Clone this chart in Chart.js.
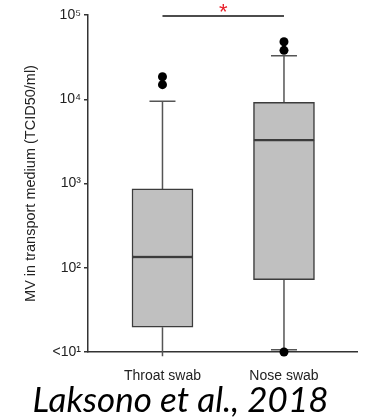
<!DOCTYPE html>
<html><head><meta charset="utf-8">
<script src="https://cdn.jsdelivr.net/npm/chart.js@4"></script>
<style>
html,body{margin:0;padding:0;background:#fff;}
#wrap{position:relative;width:365px;height:418px;overflow:hidden;}
#cap{position:absolute;left:0;width:361px;text-align:center;top:378px;font:italic 35px Lato, "Open Sans", sans-serif;color:#000;white-space:nowrap;line-height:40px;}
</style>
</head><body>
<div id="wrap"><canvas id="c" width="365" height="418"></canvas><div id="cap">Laksono et al., 2018</div></div>
<script>
const categories = ['Throat swab', 'Nose swab'];
const whiskerLow = [8.9, 10.6];
const q1 = [19.7, 72];
const median = [134, 3270];
const q3 = [863, 9200];
const whiskerHigh = [9460, 32900];
const outliersThroat = [14900, 18500];
const outliersNose = [10, 38100, 48200];
const yTicks = [10, 100, 1000, 10000, 100000];
const yTickLabels = ['<10¹', '10²', '10³', '10⁴', '10⁵'];
const sigValue = 97000;
const sigFrom = 0, sigTo = 1, sigLabel = '*';

const outlierPoints = [];
outliersThroat.forEach(v => outlierPoints.push({x: 0, y: v}));
outliersNose.forEach(v => outlierPoints.push({x: 1, y: v}));

const whiskerPlugin = {
  id: 'whiskers',
  beforeDatasetsDraw(chart) {
    const ctx = chart.ctx, xs = chart.scales.x, ys = chart.scales.y, a = chart.chartArea;
    ctx.save();
    ctx.strokeStyle = '#555';
    ctx.lineWidth = 1.5;
    categories.forEach((c, i) => {
      const x = xs.getPixelForValue(i);
      ctx.beginPath();
      ctx.moveTo(x, ys.getPixelForValue(whiskerLow[i]));
      ctx.lineTo(x, ys.getPixelForValue(q1[i]));
      ctx.moveTo(x, ys.getPixelForValue(q3[i]));
      ctx.lineTo(x, ys.getPixelForValue(whiskerHigh[i]));
      ctx.stroke();
    });
    ctx.beginPath();
    ctx.rect(a.left, a.top - 30, a.right - a.left, a.bottom - a.top + 30);
    ctx.clip();
    ctx.beginPath();
    categories.forEach((c, i) => {
      const x = xs.getPixelForValue(i);
      [whiskerLow[i], whiskerHigh[i]].forEach(v => {
        const y = ys.getPixelForValue(v);
        ctx.moveTo(x - 13, y);
        ctx.lineTo(x + 13, y);
      });
    });
    ctx.stroke();
    ctx.restore();
  },
  afterDatasetsDraw(chart) {
    const ctx = chart.ctx, xs = chart.scales.x, ys = chart.scales.y;
    const y = ys.getPixelForValue(sigValue);
    const x1 = xs.getPixelForValue(sigFrom), x2 = xs.getPixelForValue(sigTo);
    ctx.save();
    ctx.strokeStyle = '#111';
    ctx.lineWidth = 1.5;
    ctx.beginPath();
    ctx.moveTo(x1, y); ctx.lineTo(x2, y);
    ctx.stroke();
    ctx.fillStyle = '#e8202a';
    ctx.font = '22px "Liberation Sans", Arial, sans-serif';
    ctx.textAlign = 'center';
    ctx.textBaseline = 'alphabetic';
    ctx.fillText(sigLabel, (x1 + x2) / 2, y + 3);
    ctx.restore();
  }
};

const boxStyle = {
  backgroundColor: '#c0c0c0', borderColor: '#3c3c3c', borderWidth: 1.5,
  borderSkipped: false, barThickness: 61, grouped: false
};

new Chart(document.getElementById('c'), {
  type: 'bar',
  data: {
    datasets: [
      Object.assign({ label: 'lower', data: categories.map((c, i) => ({x: i, y: [q1[i], median[i]]})) }, boxStyle),
      Object.assign({ label: 'upper', data: categories.map((c, i) => ({x: i, y: [median[i], q3[i]]})) }, boxStyle),
      { type: 'scatter', label: 'outliers', data: outlierPoints, pointRadius: 4.5, pointBackgroundColor: '#000', pointBorderColor: '#000', pointBorderWidth: 0, clip: false }
    ]
  },
  options: {
    responsive: false,
    animation: false,
    layout: { padding: { top: 15, right: 8, bottom: 0, left: 0 } },
    plugins: { legend: { display: false }, tooltip: { enabled: false } },
    scales: {
      x: {
        type: 'linear', min: -0.613, max: 1.601, offset: false,
        afterBuildTicks: axis => { axis.ticks = categories.map((c, i) => ({value: i})); },
        afterFit: axis => { axis.height = 66; },
        ticks: { callback: v => categories[v], font: { size: 14, family: '"Liberation Sans", Arial, sans-serif' }, color: '#222', padding: 8, maxRotation: 0 },
        grid: { display: false },
        border: { color: '#333', width: 1.5 }
      },
      y: {
        type: 'logarithmic', min: 10, max: 100000,
        afterBuildTicks: axis => { axis.ticks = yTicks.map(v => ({value: v})); },
        afterFit: axis => { axis.width = 88; },
        ticks: { callback: (v, i) => yTickLabels[i], font: { size: 14, family: '"Liberation Sans", Arial, sans-serif' }, color: '#222', padding: 3 },
        grid: { drawOnChartArea: false, drawTicks: true, tickLength: 4, color: '#333', lineWidth: 1.5 },
        border: { color: '#333', width: 1.5 },
        title: { display: true, text: 'MV in transport medium (TCID50/ml)', font: { size: 14.5, family: '"Liberation Sans", Arial, sans-serif' }, color: '#222', padding: { top: 22, bottom: 4 } }
      }
    }
  },
  plugins: [whiskerPlugin]
});
</script>
</body></html>
